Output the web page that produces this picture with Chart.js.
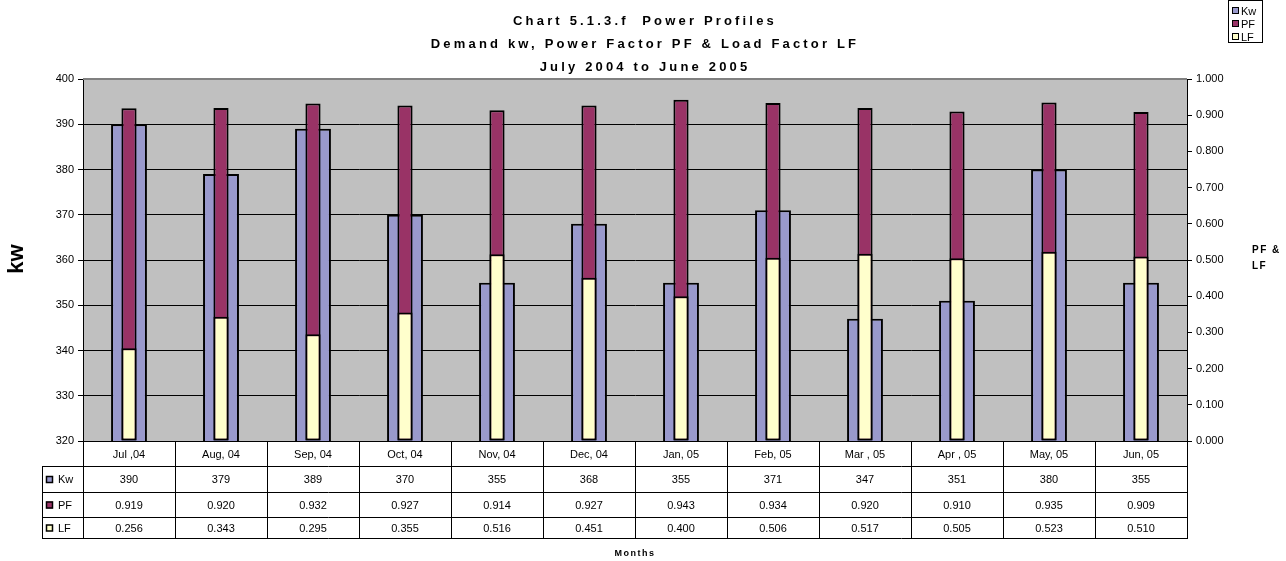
<!DOCTYPE html>
<html lang="en">
<head>
<meta charset="UTF-8">
<title>Chart 5.1.3.f Power Profiles</title>
<script src="https://cdn.jsdelivr.net/npm/chart.js@4.4.1/dist/chart.umd.min.js"></script>
<style>
    body { margin: 0; background: #fff; }
    .wrap { position: relative; width: 1286px; height: 561px; }
</style>
</head>
<body>
<div class="wrap"><canvas id="powerChart"></canvas></div>
<script>
    // data
    const months = ['Jul ,04', 'Aug, 04', 'Sep, 04', 'Oct, 04', 'Nov, 04', 'Dec, 04',
                    'Jan, 05', 'Feb, 05', 'Mar , 05', 'Apr , 05', 'May, 05', 'Jun, 05'];
    const kw = [390, 379, 389, 370, 355, 368, 355, 371, 347, 351, 380, 355];
    const pf = [0.919, 0.920, 0.932, 0.927, 0.914, 0.927, 0.943, 0.934, 0.920, 0.910, 0.935, 0.909];
    const lf = [0.256, 0.343, 0.295, 0.355, 0.516, 0.451, 0.400, 0.506, 0.517, 0.505, 0.523, 0.510];
    const titleLines = ['Chart 5.1.3.f  Power Profiles',
                        'Demand kw, Power Factor PF & Load Factor LF',
                        'July 2004 to June 2005'];

    const colKw = '#9999CC', colPf = '#993366', colLf = '#FFFFCC';
    const FONT = '"Liberation Sans", Arial, sans-serif';

    const rows = [
        { name: 'Kw', color: colKw, values: kw.map(v => String(v)) },
        { name: 'PF', color: colPf, values: pf.map(v => v.toFixed(3)) },
        { name: 'LF', color: colLf, values: lf.map(v => v.toFixed(3)) }
    ];

    // plot background + frame
    const plotBg = {
        id: 'plotBg',
        beforeDraw(chart) {
            const { ctx, chartArea: a } = chart;
            ctx.save();
            ctx.fillStyle = '#C0C0C0';
            ctx.fillRect(a.left, a.top, a.right - a.left, a.bottom - a.top);
            ctx.restore();
        },
        afterDatasetsDraw(chart) {
            const { ctx, chartArea: a } = chart;
            ctx.save();
            ctx.strokeStyle = '#808080';
            ctx.lineWidth = 2;
            ctx.beginPath();
            ctx.moveTo(a.left, a.top);
            ctx.lineTo(a.right, a.top);
            ctx.stroke();
            ctx.restore();
        }
    };

    // titles, legend, axis captions, data table
    const extras = {
        id: 'extras',
        afterDraw(chart) {
            const { ctx, chartArea: a } = chart;
            const x = chart.scales.x;
            ctx.save();
            ctx.fillStyle = '#000';
            ctx.textBaseline = 'middle';

            // title
            ctx.font = 'bold 13px ' + FONT;
            ctx.textAlign = 'center';
            ctx.letterSpacing = '0px';
            const w0 = ctx.measureText(titleLines[1]).width;
            const sp = Math.max(0, (425 - w0) / (titleLines[1].length - 1));
            ctx.letterSpacing = sp.toFixed(2) + 'px';
            titleLines.forEach((t, i) => ctx.fillText(t, 645, 21 + i * 23));

            // "Months"
            ctx.font = 'bold 9px ' + FONT;
            ctx.letterSpacing = '1.5px';
            ctx.fillText('Months', (a.left + a.right) / 2, 554);

            // right axis caption
            ctx.textAlign = 'left';
            ctx.font = 'bold 10px ' + FONT;
            ctx.letterSpacing = '1.5px';
            ctx.fillText('PF &', 1252, 250);
            ctx.fillText('LF', 1252, 266);

            // left axis caption
            ctx.letterSpacing = '0px';
            ctx.font = 'bold 22px ' + FONT;
            ctx.textAlign = 'center';
            ctx.translate(17, 259);
            ctx.rotate(-Math.PI / 2);
            ctx.fillText('kw', 0, 0);
            ctx.setTransform(1, 0, 0, 1, 0, 0);

            // legend box
            ctx.strokeStyle = '#000';
            ctx.lineWidth = 1;
            ctx.strokeRect(1228.5, 0.5, 34, 42);
            ctx.font = '11px ' + FONT;
            ctx.textAlign = 'left';
            rows.forEach((r, i) => {
                const yy = 11 + i * 13;
                ctx.fillStyle = r.color;
                ctx.fillRect(1232, yy - 3, 6, 6);
                ctx.strokeRect(1232.5, yy - 3.5, 6, 6);
                ctx.fillStyle = '#000';
                ctx.fillText(r.name, 1241, yy + 1);
            });

            // data table
            const top = a.bottom;
            const rowEdges = [top, top + 25, top + 51, top + 76, top + 97];
            const leftKey = 42;
            const half = (x.getPixelForValue(1) - x.getPixelForValue(0)) / 2;
            ctx.lineWidth = 1;
            ctx.strokeStyle = '#000';
            ctx.beginPath();
            // vertical category lines
            for (let i = 0; i <= months.length; i++) {
                const px = i < months.length
                    ? Math.round(x.getPixelForValue(i) - half)
                    : Math.round(a.right);
                ctx.moveTo(px + 0.5, top);
                ctx.lineTo(px + 0.5, rowEdges[4]);
            }
            ctx.moveTo(leftKey + 0.5, rowEdges[1]);
            ctx.lineTo(leftKey + 0.5, rowEdges[4]);
            ctx.moveTo(a.left, rowEdges[0] + 0.5);
            ctx.lineTo(a.right + 1, rowEdges[0] + 0.5);
            for (let r = 1; r <= 4; r++) {
                ctx.moveTo(leftKey, rowEdges[r] + 0.5);
                ctx.lineTo(a.right + 1, rowEdges[r] + 0.5);
            }
            ctx.stroke();

            ctx.font = '11px ' + FONT;
            ctx.textAlign = 'center';
            months.forEach((m, i) => {
                ctx.fillText(m, x.getPixelForValue(i), (rowEdges[0] + rowEdges[1]) / 2 + 1);
            });
            rows.forEach((r, ri) => {
                const cy = (rowEdges[ri + 1] + rowEdges[ri + 2]) / 2 + 1;
                r.values.forEach((v, i) => ctx.fillText(v, x.getPixelForValue(i), cy));
                ctx.fillStyle = r.color;
                ctx.fillRect(46, cy - 4, 7, 7);
                ctx.lineWidth = 1.5;
                ctx.strokeRect(46.5, cy - 3.5, 6, 6);
                ctx.lineWidth = 1;
                ctx.fillStyle = '#000';
                ctx.textAlign = 'left';
                ctx.fillText(r.name, 58, cy);
                ctx.textAlign = 'center';
            });
            ctx.restore();
        }
    };

    const barBase = {
        borderColor: '#000',
        borderWidth: 2,
        borderSkipped: false,
        grouped: false,
        categoryPercentage: 1
    };

    new Chart(document.getElementById('powerChart'), {
        type: 'bar',
        data: {
            labels: months,
            datasets: [
                Object.assign({ label: 'Kw', data: kw, backgroundColor: colKw, yAxisID: 'y',
                                barPercentage: 0.39, order: 3 }, barBase),
                Object.assign({ label: 'PF', data: pf, backgroundColor: colPf, yAxisID: 'y1',
                                barPercentage: 0.165, order: 2 }, barBase),
                Object.assign({ label: 'LF', data: lf, backgroundColor: colLf, yAxisID: 'y1',
                                barPercentage: 0.165, order: 1 }, barBase)
            ]
        },
        options: {
            responsive: true,
            maintainAspectRatio: false,
            animation: false,
            layout: { padding: { top: 79, left: 0, right: 0, bottom: 0 } },
            plugins: {
                legend: { display: false },
                title: { display: false },
                tooltip: { enabled: false }
            },
            scales: {
                x: {
                    ticks: { display: false },
                    grid: { display: false },
                    border: { display: false },
                    afterFit(s) { s.height = 120; }
                },
                y: {
                    position: 'left',
                    min: 320,
                    max: 400,
                    ticks: { stepSize: 10, color: '#000', padding: 4,
                             font: { family: FONT, size: 11 } },
                    grid: { color: '#000', lineWidth: 1, tickLength: 5 },
                    border: { color: '#000', width: 1 },
                    afterFit(s) { s.width = 83; }
                },
                y1: {
                    position: 'right',
                    min: 0,
                    max: 1,
                    ticks: { stepSize: 0.1, color: '#000', padding: 4,
                             font: { family: FONT, size: 11 },
                             callback: v => v.toFixed(3) },
                    grid: { drawOnChartArea: false, color: '#000', tickLength: 5 },
                    border: { color: '#000', width: 1 },
                    afterFit(s) { s.width = 99; }
                }
            }
        },
        plugins: [plotBg, extras]
    });
</script>
</body>
</html>
